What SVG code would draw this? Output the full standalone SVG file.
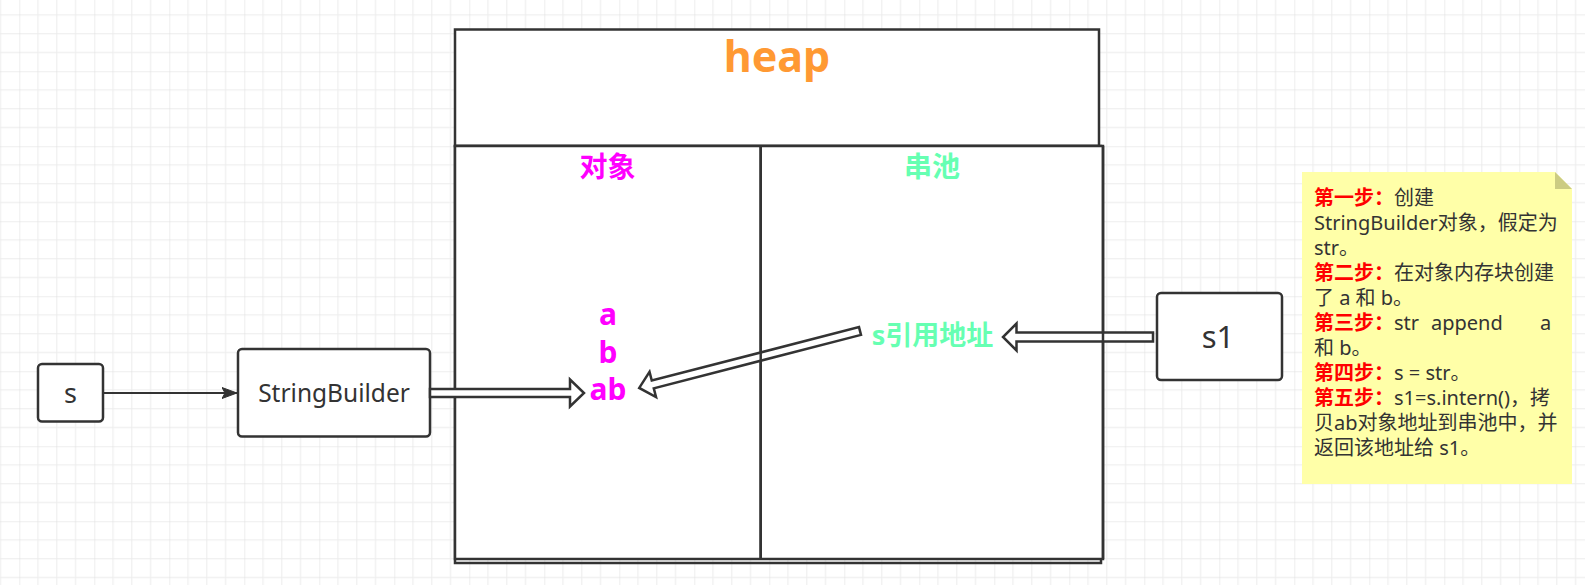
<svg xmlns="http://www.w3.org/2000/svg" width="1585" height="585" viewBox="0 0 1585 585">
  <defs>
    <pattern id="grid" x="19.3" y="-3.75" width="75" height="75" patternUnits="userSpaceOnUse">
      <rect x="18.25" y="0" width="1" height="75" fill="#ececec"/>
      <rect x="37" y="0" width="1" height="75" fill="#ececec"/>
      <rect x="55.75" y="0" width="1" height="75" fill="#ececec"/>
      <rect x="0" y="18.25" width="75" height="1" fill="#ececec"/>
      <rect x="0" y="37" width="75" height="1" fill="#ececec"/>
      <rect x="0" y="55.75" width="75" height="1" fill="#ececec"/>
      <rect x="-0.5" y="0" width="1" height="75" fill="#dddddd"/>
      <rect x="0" y="-0.5" width="75" height="1" fill="#dddddd"/>
    </pattern>
    <marker id="classic" viewBox="0 0 16 12" refX="15" refY="6" markerWidth="16" markerHeight="12" markerUnits="userSpaceOnUse" orient="auto">
      <path d="M0,0.5 L15,6 L0,11.5 L3,6 Z" fill="#333333" stroke="#333333" stroke-width="1"/>
    </marker>
    <style>
      .box { fill: #ffffff; stroke: #333333; stroke-width: 2.5; }
      .line { fill: none; stroke: #333333; stroke-width: 2.5; }
      .conn { fill: none; stroke: #333333; stroke-width: 2; }
      .flex { fill: #ffffff; stroke: #333333; stroke-width: 2.5; stroke-linejoin: miter; }
      .lbl { font-family: "Noto Sans", "Noto Sans CJK SC", sans-serif; fill: #333333; text-anchor: middle; }
      .bold { font-family: "Noto Sans", "Noto Sans CJK SC", sans-serif; font-weight: bold; text-anchor: middle; }
      .note { font-family: "Noto Sans", "Noto Sans CJK SC", sans-serif; font-size: 20px; fill: #333333; }
      .step { fill: #ff0000; font-weight: bold; }
    </style>
  </defs>

  <rect x="0" y="0" width="1585" height="585" fill="#ffffff"/>
  <rect x="0" y="0" width="1585" height="585" fill="url(#grid)"/>

  <g id="heap">
    <rect class="box" x="455" y="29.5" width="644" height="116.5"/>
    <rect class="line" x="455" y="146" width="646" height="417"/>
    <rect class="box" x="455" y="146" width="648" height="413"/>
    <line class="line" x1="760.7" y1="146" x2="760.7" y2="559"/>
    <text class="bold" x="777" y="72" font-size="43" fill="#ff9933">heap</text>
    <text class="bold" x="607.5" y="177" font-size="28" fill="#ff00ff">对象</text>
    <text class="bold" x="932" y="177" font-size="28" fill="#66ffb2">串池</text>
  </g>

  <g id="s">
    <rect class="box" x="38" y="364" width="65" height="57.5" rx="4" ry="4"/>
    <text class="lbl" x="70.5" y="403" font-size="27">s</text>
  </g>

  <g id="stringbuilder">
    <rect class="box" x="238" y="349" width="192" height="87.5" rx="4" ry="4"/>
    <text class="lbl" x="334" y="402" font-size="24.5">StringBuilder</text>
  </g>

  <g id="s1">
    <rect class="box" x="1157" y="293" width="125" height="87" rx="4" ry="4"/>
    <text class="lbl" x="1218" y="348" font-size="31">s1</text>
  </g>

  <g id="connectors">
    <line class="conn" x1="103" y1="393" x2="237" y2="393" marker-end="url(#classic)"/>
    <polygon class="flex" points="430,389 570,389 570,379.5 584,393 570,406.5 570,397 430,397"/>
    <g transform="translate(860,331) rotate(165.54)">
      <polygon class="flex" points="0,-4 214,-4 214,-13 228,0 214,13 214,4 0,4"/>
    </g>
    <polygon class="flex" points="1153,332.5 1016.5,332.5 1016.5,323.5 1003,337 1016.5,350.5 1016.5,341.5 1153,341.5"/>
  </g>

  <g id="heap-lines">
    <line class="line" x1="760.7" y1="146" x2="760.7" y2="559"/>
    <line class="line" x1="1103" y1="146" x2="1103" y2="559"/>
  </g>

  <g id="obj-a">
    <text class="bold" x="608" y="325" font-size="30" fill="#ff00ff">a</text>
  </g>
  <g id="obj-b">
    <text class="bold" x="608" y="362.5" font-size="30" fill="#ff00ff">b</text>
  </g>
  <g id="obj-ab">
    <text class="bold" x="608" y="400" font-size="30" fill="#ff00ff">ab</text>
  </g>
  <g id="pool-ref">
    <text class="bold" x="932.5" y="345" font-size="27" fill="#66ffb2">s引用地址</text>
  </g>

  <g id="note">
    <path d="M1302,172 H1555 L1572,189 V484 H1302 Z" fill="#ffffa8"/>
    <path d="M1555,172 V189 H1572 Z" fill="#cccc82"/>
    <text class="note" x="1314" y="205"><tspan class="step">第一步：</tspan>创建</text>
    <text class="note" x="1314" y="230">StringBuilder对象，假定为</text>
    <text class="note" x="1314" y="255">str。</text>
    <text class="note" x="1314" y="280"><tspan class="step">第二步：</tspan>在对象内存块创建</text>
    <text class="note" x="1314" y="305">了 a 和 b。</text>
    <text class="note" x="1314" y="330"><tspan class="step">第三步：</tspan><tspan x="1394">str</tspan><tspan x="1431">append</tspan><tspan x="1540">a</tspan></text>
    <text class="note" x="1314" y="355">和 b。</text>
    <text class="note" x="1314" y="380"><tspan class="step">第四步：</tspan>s = str。</text>
    <text class="note" x="1314" y="405"><tspan class="step">第五步：</tspan>s1=s.intern()，拷</text>
    <text class="note" x="1314" y="430">贝ab对象地址到串池中，并</text>
    <text class="note" x="1314" y="455">返回该地址给 s1。</text>
  </g>
</svg>
